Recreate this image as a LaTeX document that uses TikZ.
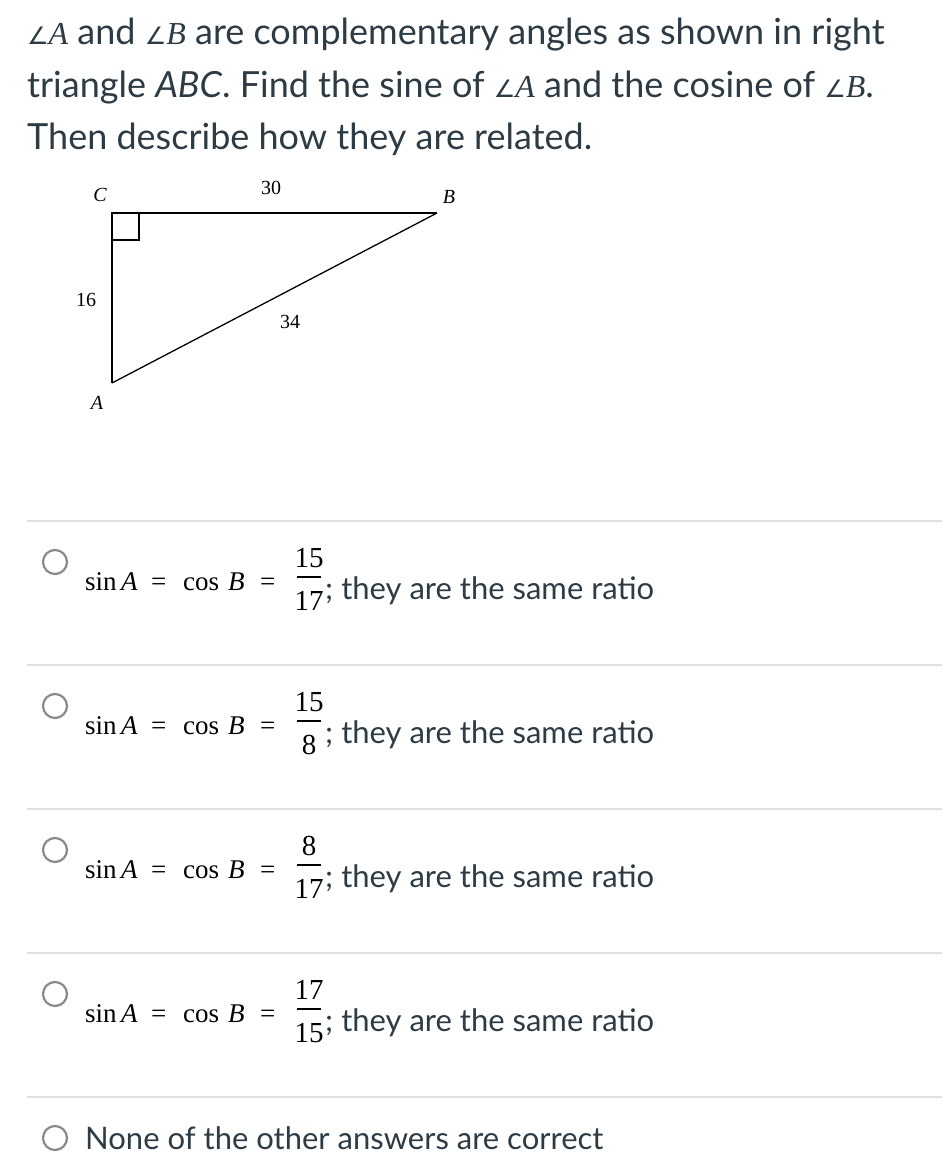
\documentclass[tikz,border=0pt]{standalone}
\usepackage{fontspec}
\setmainfont{Lato}
\newfontfamily\mathserif{Liberation Serif}
\newfontfamily\angfont{DejaVu Sans}
\newcommand{\ang}[1]{{\angfont\fontsize{24}{24}\selectfont\char"2220}{\mathserif\itshape\fontsize{32}{32}\selectfont #1}}
\definecolor{txt}{HTML}{2D3B45}
\definecolor{sep}{HTML}{E0E0E0}
\definecolor{rad}{HTML}{8A8A8A}
\tikzset{
  qtext/.style={anchor=base west, inner sep=0pt, text=txt, font=\fontsize{36}{36}\selectfont},
  lbl/.style={inner sep=0pt, font=\mathserif\fontsize{20}{20}\selectfont},
  ilbl/.style={inner sep=0pt, font=\mathserif\itshape\fontsize{20}{20}\selectfont},
  sepline/.style={draw=sep, line width=2pt},
  radio/.style={draw=rad, line width=2.2pt, circle, minimum size=24pt, inner sep=0pt},
  mathtxt/.style={anchor=base west, inner sep=0pt, font=\mathserif\fontsize{27}{27}\selectfont},
  frnum/.style={inner sep=0pt, font=\mathserif\fontsize{29}{29}\selectfont},
  ans/.style={anchor=base west, inner sep=0pt, text=txt, font=\fontsize{31}{31}\selectfont},
  edge/.style={line width=1.5pt}
}
\begin{document}
\begin{tikzpicture}[x=1pt,y=-1pt]
\useasboundingbox (0,0) rectangle (942,1174);
\fill[white] (0,0) rectangle (942,1174);
% question
\node[qtext] (q1) at (27,45) {\ang{A} and \ang{B} are complementary angles as shown in right};
\node[qtext] (q2) at (27,98) {triangle \textit{ABC}. Find the sine of \ang{A} and the cosine of \ang{B}.};
\node[qtext] (q3) at (27,150) {Then describe how they are related.};
% triangle
\coordinate (C) at (112,213);
\coordinate (B) at (437,213);
\coordinate (A) at (112,383);
\draw[edge] (A) -- (C) -- (B);
\draw[line width=1.3pt] (B) -- (A);
\draw[line width=1.3pt] (112,240) -- (139,240) -- (139,213);
\node[ilbl] (lC) at (100,195) {C};
\node[ilbl] (lB) at (449,197) {B};
\node[ilbl] (lA) at (97,403) {A};
\node[lbl] (l30) at (271,188) {30};
\node[lbl] (l16) at (86,300) {16};
\node[lbl] (l34) at (290,322) {34};
% separators
\foreach \y in {521,665,809,953,1097} \draw[sepline] (27,\y) -- (942,\y);
% options
\foreach \k/\n/\d in {0/15/17,1/15/8,2/8/17,3/17/15}{
  \pgfmathsetmacro{\oy}{\k*144}
  \begin{scope}[yshift=-\oy pt]
    \node[radio] (r\k) at (55,562) {};
    \node[mathtxt] (ms\k) at (85,590) {sin};
    \node[mathtxt] (ma\k) at (121,590) {\textit{A}};
    \node[mathtxt] (me\k) at (151,590) {=};
    \node[mathtxt] (mc\k) at (183,590) {cos};
    \node[mathtxt] (mb\k) at (228,590) {\textit{B}};
    \node[mathtxt] (mf\k) at (260,590) {=};
    \node[frnum] (n\k) at (309,558) {\n};
    \node[frnum] (d\k) at (309,601) {\d};
    \draw[line width=1.3pt] (297,577) -- (321,577);
    \node[ans] (t\k) at (325,599) {; they are the same ratio};
  \end{scope}
}
\node[radio] (r4) at (55,1138) {};
\node[ans] (t4) at (85,1149) {None of the other answers are correct};
\end{tikzpicture}
\end{document}
